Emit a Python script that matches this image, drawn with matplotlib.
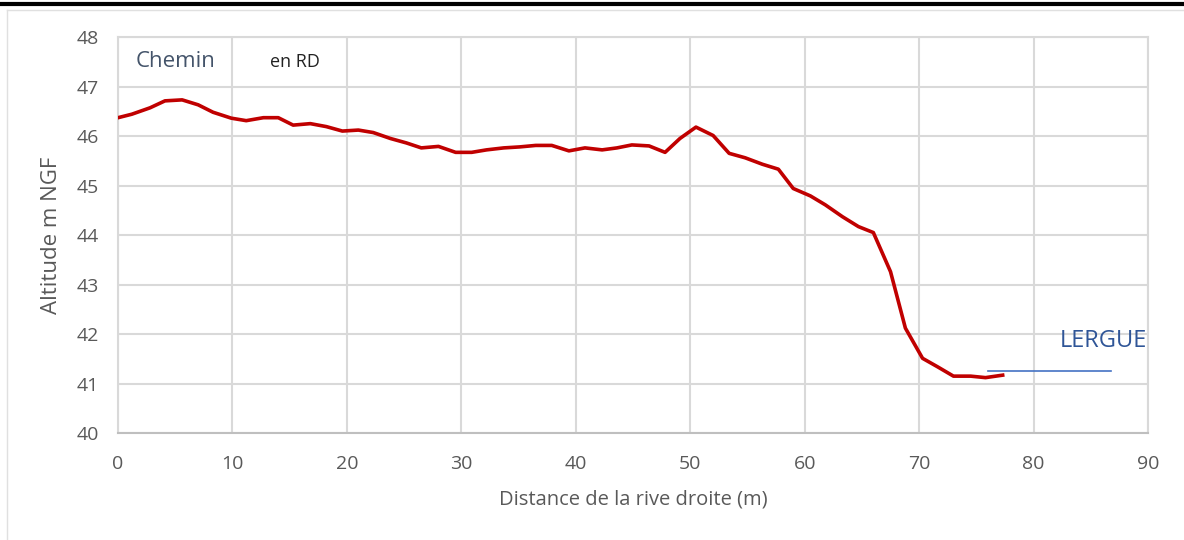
import matplotlib
matplotlib.use("Agg")
import matplotlib.pyplot as plt
from matplotlib.lines import Line2D

plt.rcParams['font.family'] = ['Open Sans', 'DejaVu Sans']

# profile: distance from right bank (m), altitude (m NGF)
distance = [0.0, 1.2, 2.8, 4.1, 5.6, 7.0, 8.3, 9.9, 11.2, 12.7, 14.0, 15.3,
            16.8, 18.2, 19.6, 21.0, 22.3, 23.8, 25.2, 26.5, 28.0, 29.5, 30.9,
            32.2, 33.7, 35.1, 36.5, 37.9, 39.4, 40.8, 42.3, 43.6, 44.9, 46.4,
            47.8, 49.1, 50.5, 52.0, 53.4, 54.8, 56.3, 57.7, 59.0, 60.5, 61.8,
            63.3, 64.7, 66.0, 67.5, 68.8, 70.3, 71.6, 73.0, 74.5, 75.8, 77.3]
altitude = [46.37, 46.44, 46.57, 46.71, 46.73, 46.63, 46.48, 46.36, 46.31,
            46.37, 46.37, 46.22, 46.25, 46.19, 46.10, 46.12, 46.07, 45.95,
            45.86, 45.76, 45.79, 45.67, 45.67, 45.72, 45.76, 45.78, 45.81,
            45.81, 45.70, 45.76, 45.72, 45.76, 45.82, 45.80, 45.67, 45.95,
            46.18, 46.01, 45.65, 45.56, 45.43, 45.33, 44.94, 44.79, 44.61,
            44.37, 44.17, 44.05, 43.26, 42.12, 41.51, 41.34, 41.15, 41.15,
            41.12, 41.17]

# water level of the Lergue
water_x = [76.0, 86.8]
water_y = [41.26, 41.26]

xticks = list(range(0, 91, 10))
yticks = list(range(40, 49, 1))

fig = plt.figure(figsize=(11.84, 5.4), dpi=100)
ax = fig.add_axes([0.0997, 0.198, 0.8699, 0.7335])

ax.plot(distance, altitude, color='#C00000', lw=2.6, solid_joinstyle='round', zorder=3)
ax.plot(water_x, water_y, color='#4472C4', lw=1.2, zorder=3)

ax.set_xlim(0, 90)
ax.set_ylim(40, 48)
ax.set_xticks(xticks)
ax.set_yticks(yticks)
ax.grid(True, color='#D9D9D9', lw=1.5)
ax.set_axisbelow(True)
ax.tick_params(length=0, labelsize=14, labelcolor='#595959')
ax.tick_params(axis='x', pad=16)
ax.tick_params(axis='y', pad=14)
for s in ['top', 'right', 'left']:
    ax.spines[s].set_color('#D9D9D9')
    ax.spines[s].set_linewidth(1.5)
ax.spines['bottom'].set_color('#BFBFBF')
ax.spines['bottom'].set_linewidth(1.5)

ax.set_xlabel('Distance de la rive droite (m)', fontsize=14.5, color='#595959', labelpad=12)
ax.set_ylabel('Altitude m NGF', fontsize=16, color='#595959', labelpad=10)

ax.text(1.5, 47.5, 'Chemin', fontsize=16, color='#44546A', va='center')
ax.text(13.3, 47.5, 'en RD', fontsize=13, color='#222222', va='center')
ax.text(82.3, 41.86, 'LERGUE', fontsize=17, color='#2F5597', va='center')

# thin outer frame and thick rule at the top
fig.add_artist(Line2D([0, 1], [0.992, 0.992], transform=fig.transFigure, color='black', lw=3))
fig.add_artist(Line2D([0.006, 1], [0.981, 0.981], transform=fig.transFigure, color='#E0E0E0', lw=1))
fig.add_artist(Line2D([0.006, 0.006], [0.0, 0.981], transform=fig.transFigure, color='#E0E0E0', lw=1))

fig.savefig('out.png', dpi=100)
